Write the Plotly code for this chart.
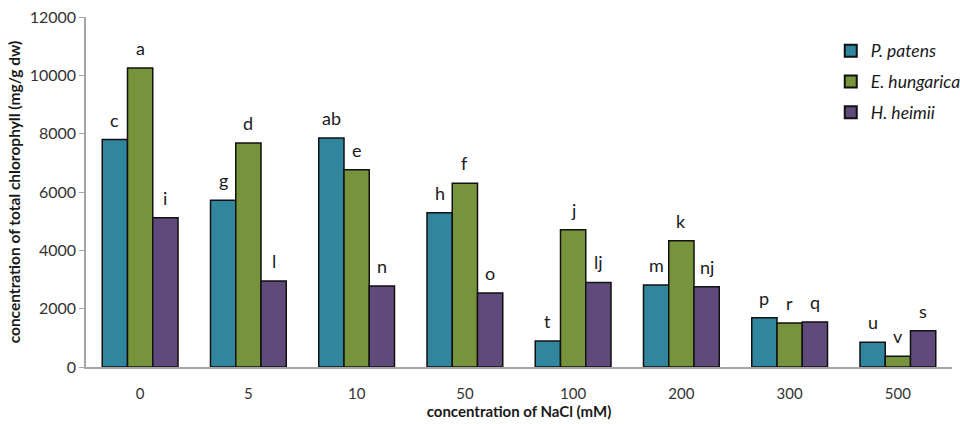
import plotly.graph_objects as go

categories = ["0", "5", "10", "50", "100", "200", "300", "500"]
series_names = ["P. patens", "E. hungarica", "H. heimii"]
p_patens = [7800, 5720, 7850, 5290, 890, 2810, 1690, 850]
e_hungarica = [10250, 7680, 6760, 6300, 4710, 4330, 1510, 370]
h_heimii = [5120, 2950, 2780, 2540, 2900, 2750, 1540, 1240]
letters_p = ["c", "g", "ab", "h", "t", "m", "p", "u"]
letters_e = ["a", "d", "e", "f", "j", "k", "r", "v"]
letters_h = ["i", "l", "n", "o", "lj", "nj", "q", "s"]
y_ticks = [0, 2000, 4000, 6000, 8000, 10000, 12000]
y_ticklabels = ["0", "2000", "4000", "6000", "8000", "10000", "12000"]
colors = ["#31859C", "#77933C", "#604A7B"]

FONT = "Lato, 'Open Sans', sans-serif"
xs = list(range(len(categories)))
values = [p_patens, e_hungarica, h_heimii]
letters = [letters_p, letters_e, letters_h]

fig = go.Figure()
for name, vals, col in zip(series_names, values, colors):
    fig.add_trace(go.Bar(
        x=xs, y=vals, name=name, legendgroup=name,
        marker=dict(color=col, line=dict(color="#111111", width=1.5)),
    ))

bargap = 0.3
bw = (1 - bargap) / 3
annotations = []
for k, (vals, labs) in enumerate(zip(values, letters)):
    for i, (v, t) in enumerate(zip(vals, labs)):
        annotations.append(dict(
            x=xs[i] + (k - 1) * bw, y=v, text=t, showarrow=False,
            xref="x", yref="y", yanchor="middle", yshift=20,
            font=dict(family=FONT, size=18, color="#1a1a1a"),
        ))

fig.update_layout(
    width=960, height=424,
    margin=dict(l=86, r=8, t=17, b=57, autoexpand=False),
    paper_bgcolor="white", plot_bgcolor="white",
    barmode="group", bargap=bargap, bargroupgap=0,
    font=dict(family=FONT, color="#333333"),
    showlegend=True,
    legend=dict(
        x=0.86, y=0.955, xanchor="left", yanchor="top",
        bgcolor="rgba(0,0,0,0)", traceorder="grouped",
        font=dict(family=FONT, size=17.5, color="#1a1a1a", style="italic"),
        tracegroupgap=5, itemsizing="constant",
    ),
    annotations=annotations,
    xaxis=dict(
        range=[-0.5, len(categories) - 0.5], automargin=False,
        tickmode="array", tickvals=xs, ticktext=categories,
        showline=True, linecolor="#A6A6A6", linewidth=1.5,
        ticks="outside", ticklen=12, tickcolor="rgba(0,0,0,0)",
        tickfont=dict(family=FONT, size=15, color="#333333"),
        showgrid=False, zeroline=False,
        title=dict(text="<b>concentration of NaCl (mM)</b>", standoff=4,
                   font=dict(family=FONT, size=15, color="#1a1a1a")),
    ),
    yaxis=dict(
        range=[0, 12000], automargin=False,
        tickmode="array", tickvals=y_ticks, ticktext=y_ticklabels,
        showline=True, linecolor="#A6A6A6", linewidth=1.5,
        ticks="outside", ticklen=5, tickcolor="#A6A6A6",
        tickfont=dict(family=FONT, size=16, color="#333333"),
        showgrid=False, zeroline=False,
        title=dict(text="<b>concentration of total chlorophyll (mg/g dw)</b>", standoff=5,
                   font=dict(family=FONT, size=15.5, color="#1a1a1a")),
    ),
)

fig.write_html("out.html", config={"displayModeBar": False},
               post_script="document.body.style.margin='0';document.body.style.overflow='hidden';")
